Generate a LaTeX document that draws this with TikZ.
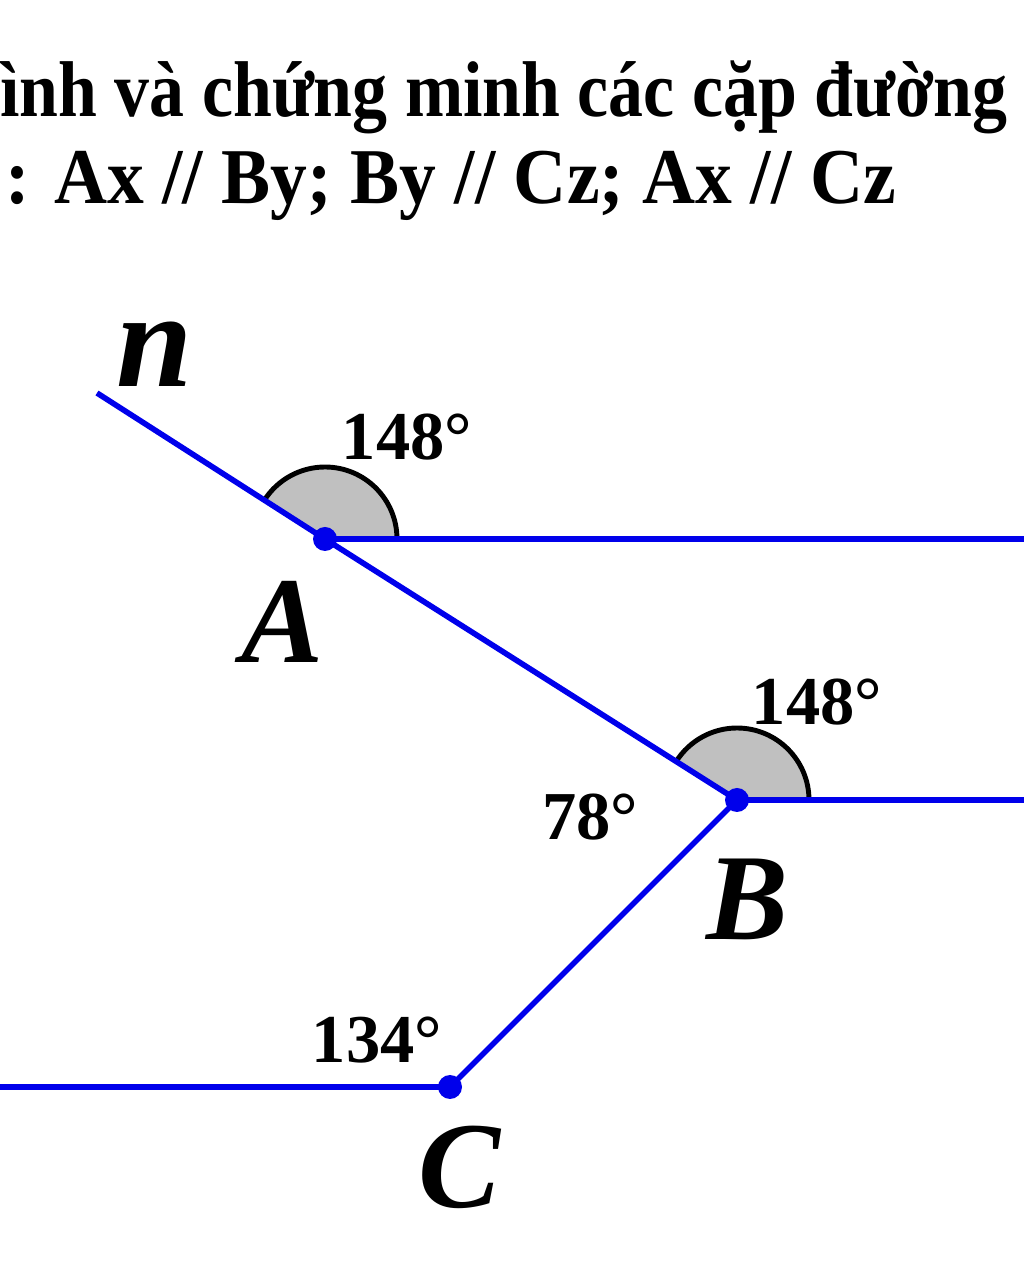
\documentclass[tikz,border=0pt]{standalone}
\usepackage{fontspec}
\setmainfont{Liberation Serif}
\begin{document}
\begin{tikzpicture}[x=0.02cm,y=0.02cm,
    ray/.style={draw={rgb,255:red,0;green,0;blue,235},line width=3.2pt},
    angfill/.style={fill={rgb,255:red,192;green,192;blue,192}},
    angarc/.style={draw=black,line width=2.8pt},
    pt/.style={fill={rgb,255:red,0;green,0;blue,235}},
    deg/.style={font=\bfseries\fontsize{39}{42}\selectfont},
    vlab/.style={font=\bfseries\itshape\fontsize{70}{72}\selectfont},
    head/.style={anchor=base west,inner sep=0,xscale=0.93,font=\bfseries\fontsize{45}{50}\selectfont}]
    \newcommand{\rad}{72}
    \useasboundingbox (0,0) rectangle (1024,1279);
    \clip (0,0) rectangle (1024,1279);
    % points
    \coordinate (A) at (325,740);
    \coordinate (B) at (737,479);
    \coordinate (C) at (450,192);
    \coordinate (n) at (97,886);
    \coordinate (x) at (1030,740);
    \coordinate (y) at (1030,479);
    \coordinate (z) at (-6,192);
    
    % angle marks
    \fill[angfill] (A) -- ++(0:\rad) arc (0:147.4:\rad) -- cycle;
    \draw[angarc] (A) ++(0:\rad) arc (0:147.4:\rad);
    \fill[angfill] (B) -- ++(0:\rad) arc (0:147.6:\rad) -- cycle;
    \draw[angarc] (B) ++(0:\rad) arc (0:147.6:\rad);
    
    % lines
    \draw[ray] (n)--(A)--(B)--(C)--(z);
    \draw[ray] (A)--(x);
    \draw[ray] (B)--(y);
    \foreach \p in {A,B,C} \fill[pt] (\p) circle (12);
    
    \node[vlab,font=\bfseries\itshape\fontsize{78}{80}\selectfont] (ln) at (155,925) {n};
    \node[vlab] (lA) at (283,657) {A};
    \node[vlab] (lB) at (748,380) {B};
    \node[vlab] (lC) at (460,112) {C};
    
    \node[deg] (dA) at (407,842) {148°};
    \node[deg] (dB) at (817,577) {148°};
    \node[deg] (dB2) at (590,462) {78°};
    \node[deg] (dC) at (377,239) {134°};
    
    \node[head,xscale=0.95] (t1) at (0,1162) {ình và chứng minh các cặp đường};
    \node[head] (t2) at (5,1075) {: Ax // By; By // Cz; Ax // Cz};
\end{tikzpicture}
\end{document}
